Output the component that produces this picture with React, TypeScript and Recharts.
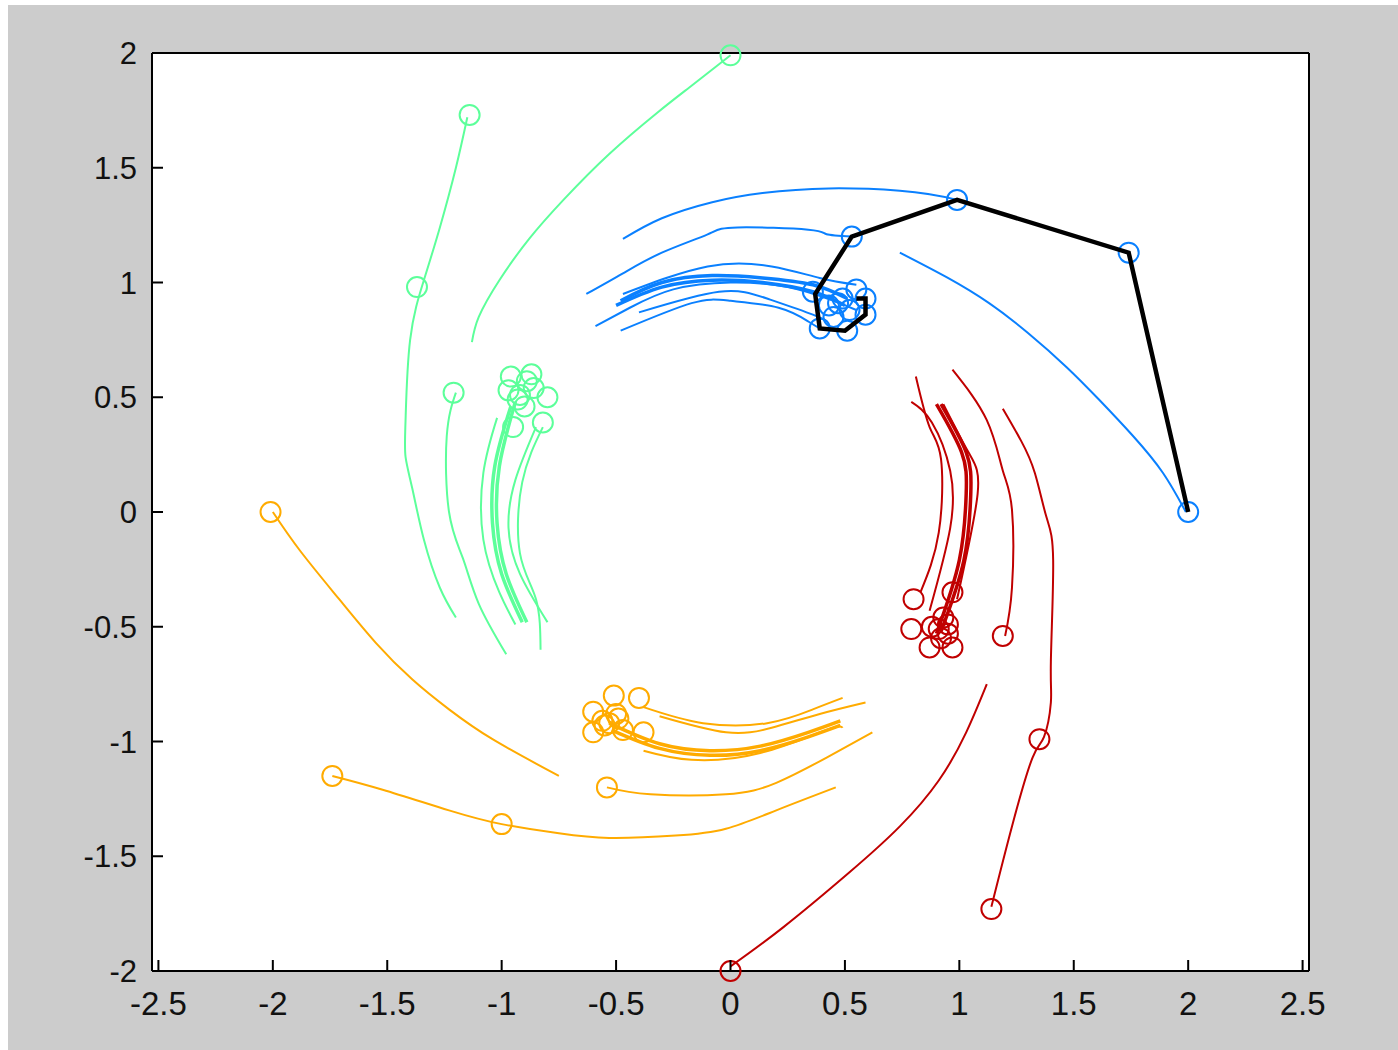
import { ScatterChart, Scatter, XAxis, YAxis, CartesianGrid } from "recharts";

type Pt = [number, number];

const xTicks = [-2.5, -2, -1.5, -1, -0.5, 0, 0.5, 1, 1.5, 2, 2.5];
const yTicks = [-2, -1.5, -1, -0.5, 0, 0.5, 1, 1.5, 2];

// blue swarm (upper right)
const blueCurves: Pt[][] = [
  [[0.74, 1.13], [0.95, 1.02], [1.13, 0.91], [1.3, 0.78], [1.47, 0.63], [1.61, 0.49], [1.76, 0.33], [1.89, 0.17], [1.99, 0.0]],
  [[1.73, 1.13], [1.35, 1.25], [0.99, 1.36], [0.74, 1.4], [0.43, 1.41], [0.14, 1.39], [-0.08, 1.35], [-0.3, 1.28], [-0.47, 1.19]],
  [[0.53, 1.2], [0.42, 1.21], [0.34, 1.23], [0.03, 1.24], [-0.1, 1.21], [-0.3, 1.13], [-0.47, 1.04], [-0.63, 0.95]],
  [[-0.48, 0.92], [-0.3, 1.0], [-0.08, 1.03], [0.14, 1.02], [0.36, 0.99], [0.51, 0.93]],
  [[-0.5, 0.9], [-0.3, 0.98], [-0.08, 1.01], [0.14, 1.0], [0.36, 0.96], [0.5, 0.9]],
  [[-0.47, 0.95], [-0.1, 1.07], [0.18, 1.07], [0.39, 1.02], [0.55, 0.99]],
  [[-0.59, 0.81], [-0.44, 0.89], [-0.25, 0.97], [0.0, 1.0], [0.25, 0.98], [0.45, 0.92], [0.55, 0.88]],
  [[-0.4, 0.87], [-0.05, 0.96], [0.16, 0.93], [0.36, 0.86], [0.42, 0.83]],
  [[-0.48, 0.79], [-0.17, 0.91], [0.0, 0.92], [0.21, 0.89], [0.34, 0.83], [0.39, 0.8]],
];
const blueCircles: Pt[] = [
  [2, 0], [1.74, 1.13], [0.99, 1.36], [0.53, 1.2], [0.39, 0.8], [0.51, 0.79], [0.59, 0.86],
  [0.59, 0.93], [0.55, 0.97], [0.36, 0.96], [0.47, 0.91], [0.52, 0.88], [0.45, 0.85], [0.49, 0.93], [0.43, 0.9],
];

// green swarm (upper left)
const greenCurves: Pt[][] = [
  [[0, 1.99], [-0.18, 1.85], [-0.32, 1.74], [-0.53, 1.56], [-0.73, 1.36], [-0.88, 1.19], [-1.01, 1.01], [-1.1, 0.85], [-1.13, 0.74]],
  [[-1.15, 1.72], [-1.2, 1.5], [-1.27, 1.24], [-1.34, 1.01], [-1.4, 0.75], [-1.42, 0.4], [-1.42, 0.24], [-1.39, 0.1], [-1.34, -0.12], [-1.27, -0.33], [-1.2, -0.46]],
  [[-1.2, 0.52], [-1.24, 0.33], [-1.23, 0.0], [-1.17, -0.2], [-1.1, -0.4], [-0.98, -0.62]],
  [[-0.96, 0.46], [-1.03, 0.2], [-1.04, -0.05], [-1.0, -0.27], [-0.91, -0.48]],
  [[-0.94, 0.48], [-1.01, 0.2], [-1.02, -0.05], [-0.98, -0.27], [-0.89, -0.48]],
  [[-1.02, 0.41], [-1.08, 0.17], [-1.08, -0.12], [-1.01, -0.35], [-0.94, -0.49]],
  [[-0.85, 0.37], [-0.94, 0.14], [-0.97, -0.07], [-0.92, -0.27], [-0.8, -0.48]],
  [[-0.82, 0.37], [-0.91, 0.13], [-0.92, -0.18], [-0.85, -0.38], [-0.83, -0.6]],
];
const greenCircles: Pt[] = [
  [0, 1.99], [-1.14, 1.73], [-1.37, 0.98], [-1.21, 0.52], [-0.96, 0.59], [-0.87, 0.6], [-0.8, 0.5],
  [-0.82, 0.39], [-0.97, 0.53], [-0.95, 0.37], [-0.92, 0.51], [-0.9, 0.46], [-0.86, 0.54], [-0.93, 0.49], [-0.89, 0.57],
];

// orange swarm (bottom)
const orangeCurves: Pt[][] = [
  [[-2.0, 0], [-1.88, -0.17], [-1.71, -0.38], [-1.55, -0.57], [-1.39, -0.73], [-1.23, -0.86], [-1.04, -0.99], [-0.75, -1.15]],
  [[-1.74, -1.15], [-1.52, -1.21], [-1.23, -1.3], [-1.0, -1.36], [-0.75, -1.4], [-0.53, -1.42], [-0.24, -1.41], [-0.02, -1.38], [0.2, -1.3], [0.46, -1.2]],
  [[-0.54, -1.2], [-0.35, -1.23], [-0.02, -1.23], [0.2, -1.18], [0.42, -1.07], [0.62, -0.96]],
  [[-0.53, -0.92], [-0.31, -1.01], [-0.09, -1.04], [0.13, -1.02], [0.34, -0.96], [0.48, -0.91]],
  [[-0.52, -0.95], [-0.31, -1.03], [-0.09, -1.06], [0.13, -1.04], [0.34, -0.98], [0.48, -0.93]],
  [[-0.38, -1.04], [-0.17, -1.08], [0.13, -1.05], [0.42, -0.95], [0.49, -0.94]],
  [[-0.38, -0.85], [-0.12, -0.92], [0.16, -0.92], [0.36, -0.86], [0.49, -0.81]],
  [[-0.31, -0.89], [-0.02, -0.96], [0.18, -0.94], [0.39, -0.88], [0.59, -0.83]],
];
const orangeCircles: Pt[] = [
  [-2.01, 0], [-1.74, -1.15], [-1.0, -1.36], [-0.54, -1.2], [-0.51, -0.8], [-0.4, -0.81], [-0.6, -0.87],
  [-0.6, -0.96], [-0.38, -0.96], [-0.53, -0.92], [-0.5, -0.88], [-0.47, -0.95], [-0.56, -0.91], [-0.55, -0.93], [-0.49, -0.9],
];

// red swarm (right)
const redCurves: Pt[][] = [
  [[0, -1.98], [0.23, -1.81], [0.52, -1.57], [0.74, -1.37], [0.91, -1.17], [1.03, -0.96], [1.12, -0.75]],
  [[1.14, -1.72], [1.23, -1.37], [1.32, -1.07], [1.37, -0.98], [1.4, -0.83], [1.4, -0.65], [1.41, -0.21], [1.38, -0.02], [1.33, 0.17], [1.27, 0.31], [1.19, 0.45]],
  [[1.2, -0.54], [1.23, -0.33], [1.23, 0.01], [1.19, 0.18], [1.12, 0.4], [0.97, 0.62]],
  [[0.9, -0.53], [1.0, -0.21], [1.03, 0.08], [1.01, 0.26], [0.9, 0.47]],
  [[0.92, -0.52], [1.02, -0.21], [1.05, 0.08], [1.03, 0.26], [0.92, 0.47]],
  [[0.99, -0.38], [1.08, 0.08], [1.04, 0.26], [0.93, 0.47]],
  [[0.83, -0.35], [0.91, -0.09], [0.92, 0.23], [0.87, 0.37], [0.81, 0.59]],
  [[0.87, -0.43], [0.96, -0.07], [0.96, 0.18], [0.88, 0.39], [0.79, 0.48]],
];
const redCircles: Pt[] = [
  [0, -2.0], [1.14, -1.73], [1.35, -0.99], [1.19, -0.54], [0.8, -0.38], [0.79, -0.51], [0.87, -0.59],
  [0.97, -0.59], [0.97, -0.35], [0.91, -0.51], [0.93, -0.46], [0.88, -0.5], [0.95, -0.53], [0.92, -0.55], [0.95, -0.49],
];

// leader path (black)
const leaderPath: Pt[] = [
  [2, 0], [1.74, 1.13], [0.99, 1.36], [0.53, 1.2], [0.37, 0.95], [0.39, 0.8], [0.5, 0.79], [0.59, 0.86], [0.59, 0.93], [0.55, 0.93],
];

// indices of the dense bundle curves, drawn a bit heavier
const bundle = [3, 4];

const groups = [
  { color: "#0a80ff", curves: blueCurves, circles: blueCircles },
  { color: "#5cff9a", curves: greenCurves, circles: greenCircles },
  { color: "#ffab00", curves: orangeCurves, circles: orangeCircles },
  { color: "#c00000", curves: redCurves, circles: redCircles },
];

const toObj = (pts: Pt[]) => pts.map(([x, y]) => ({ x, y }));
const FONT = "'Liberation Sans', Arial, Helvetica, sans-serif";
const fmt = (v: number) => String(v);
const TICK = 11;

const BottomTick = ({ x, y, payload }: any) => (
  <g>
    <line x1={x} y1={y} x2={x} y2={y - TICK} stroke="#000" strokeWidth={2} />
    <text x={x} y={y + 44} textAnchor="middle" fontSize={33} fontFamily={FONT} fill="#111">
      {fmt(payload.value)}
    </text>
  </g>
);
const TopTick = ({ x, y }: any) => <line x1={x} y1={y} x2={x} y2={y + TICK} stroke="#000" strokeWidth={2} />;
const LeftTick = ({ x, y, payload }: any) => (
  <g>
    <line x1={x} y1={y} x2={x + TICK} y2={y} stroke="#000" strokeWidth={2} />
    <text x={x - 15} y={y + 11} textAnchor="end" fontSize={31} fontFamily={FONT} fill="#111">
      {fmt(payload.value)}
    </text>
  </g>
);
const RightTick = ({ x, y }: any) => <line x1={x} y1={y} x2={x - TICK} y2={y} stroke="#000" strokeWidth={2} />;

const noDot = () => <g />;

export default function App() {
  const axisLine = { stroke: "#000", strokeWidth: 2 };
  return (
    <div style={{ position: "absolute", left: 8, top: 5, width: 1390, height: 1045, background: "#cccccc" }}>
      <ScatterChart width={1390} height={1045} margin={{ top: 47, right: 88, bottom: 78, left: 143 }}>
        <CartesianGrid horizontal={false} vertical={false} fill="#ffffff" stroke="none" />
        {groups.map((g, gi) =>
          g.curves.map((c, ci) => (
            <Scatter key={`c${gi}-${ci}`} data={toObj(c)}
              line={{ stroke: g.color, strokeWidth: bundle.includes(ci) ? 3.5 : 2 }} lineType="joint"
              lineJointType="natural" shape={noDot} isAnimationActive={false} />
          ))
        )}
        {groups.map((g, gi) => (
          <Scatter key={`m${gi}`} data={toObj(g.circles)} isAnimationActive={false}
            shape={(p: any) => <circle cx={p.cx} cy={p.cy} r={10} fill="none" stroke={g.color} strokeWidth={2} />} />
        ))}
        <Scatter data={toObj(leaderPath)} line={{ stroke: "#000", strokeWidth: 4.5 }} lineType="joint" shape={noDot}
          isAnimationActive={false} />
        <XAxis type="number" dataKey="x" domain={[-2.528, 2.528]} ticks={xTicks} height={1} tickSize={0} tickMargin={0}
          axisLine={axisLine} tickLine={false} tick={<BottomTick />} interval={0} />
        <XAxis xAxisId="top" orientation="top" type="number" dataKey="x" domain={[-2.528, 2.528]} ticks={xTicks} height={1}
          tickSize={0} tickMargin={0} axisLine={axisLine} tickLine={false} tick={<TopTick />} interval={0} />
        <YAxis type="number" dataKey="y" domain={[-2, 2]} ticks={yTicks} width={1} tickSize={0} tickMargin={0}
          axisLine={axisLine} tickLine={false} tick={<LeftTick />} interval={0} />
        <YAxis yAxisId="right" orientation="right" type="number" dataKey="y" domain={[-2, 2]} ticks={yTicks} width={1}
          tickSize={0} tickMargin={0} axisLine={axisLine} tickLine={false} tick={<RightTick />} interval={0} />
      </ScatterChart>
    </div>
  );
}
